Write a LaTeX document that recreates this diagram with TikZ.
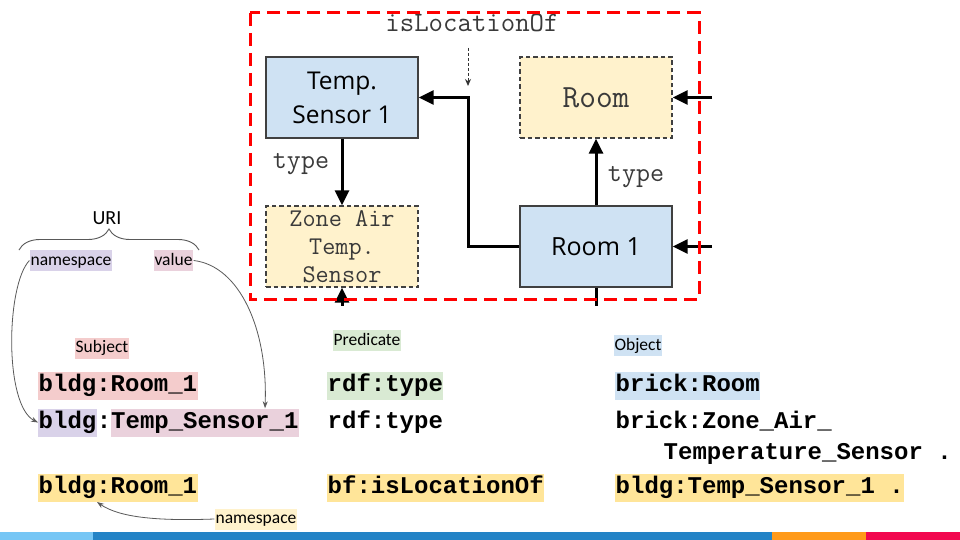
\documentclass[tikz,border=0pt]{standalone}
\usepackage{fontspec}
\setmainfont{Carlito}
\setmonofont{Liberation Mono}
\newfontfamily\osans{Open Sans}
\newfontfamily\lmtt{Latin Modern Mono}
\usetikzlibrary{arrows.meta,decorations.pathreplacing}
\definecolor{boxblue}{HTML}{CFE2F3}
\definecolor{boxyellow}{HTML}{FFF2CC}
\definecolor{subjpink}{HTML}{F4CCCC}
\definecolor{predgreen}{HTML}{D9EAD3}
\definecolor{lav}{HTML}{D9D2E9}
\definecolor{valpink}{HTML}{EAD1DC}
\definecolor{hlyellow}{HTML}{FFE599}
\definecolor{monogray}{HTML}{3A3A3A}
\definecolor{linegray}{HTML}{595959}
\definecolor{strip1}{HTML}{76C6F5}
\definecolor{strip2}{HTML}{2383C6}
\definecolor{strip3}{HTML}{FF9A1A}
\definecolor{strip4}{HTML}{F2084F}
\tikzset{
  instbox/.style={draw=black!75, line width=1.3pt, fill=boxblue, minimum width=152pt, minimum height=81pt, inner sep=0pt, align=center, font=\osans\fontsize{24.5}{34}\selectfont},
  classbox/.style={draw=black!75, line width=1.3pt, dash pattern=on 4.5pt off 3pt, fill=boxyellow, minimum width=152pt, minimum height=81pt, inner sep=0pt, align=center, text=monogray},
  arr/.style={line width=3pt, -{Triangle[length=15pt,width=14pt]}},
  lbl/.style={font=\lmtt\fontsize{27.2}{30}\selectfont, text=monogray},
  tag/.style={font=\fontsize{17.5}{20}\selectfont, inner xsep=1pt, inner ysep=2pt, text height=13pt, text depth=4pt},
  code/.style={font=\ttfamily\bfseries\fontsize{24}{28}\selectfont, anchor=west, inner xsep=0.5pt, inner ysep=2.5pt, text height=17pt, text depth=6pt},
  thin/.style={draw=linegray, line width=0.8pt, -{Stealth[length=7pt,width=5pt]}},
}
\begin{document}
\begin{tikzpicture}[x=1pt,y=-1pt]
\useasboundingbox (0,0) rectangle (960,540);
\fill[white] (0,0) rectangle (960,540);

% ---------- diagram ----------
\begin{scope}
\clip (240,0) rectangle (712,305);
\node[instbox] (temp) at (342,97.5) {Temp.\\Sensor 1};
\node[classbox, font=\lmtt\fontsize{32.4}{34}\selectfont] (room) at (596,97.5) {Room};
\node[classbox, font=\lmtt\fontsize{25.5}{28}\selectfont] (zone) at (342,246.5) {Zone Air\\Temp.\\Sensor};
\node[instbox, font=\osans\fontsize{25}{34}\selectfont] (room1) at (596,246.5) {Room 1};
\coordinate (rin1) at (712,97.5);
\coordinate (rin2) at (712,246.5);
\coordinate (zin) at (342,330);
\coordinate (rout) at (596,330);
\coordinate (dtop) at (468,48);
\coordinate (dbot) at (468,86);
\draw[arr] (temp.south) -- (zone.north);
\draw[arr] (room1.north) -- (room.south);
\draw[arr] (room1.west) -- ++(-51,0) |- (temp.east);
\draw[arr] (rin1) -- (room.east);
\draw[arr] (rin2) -- (room1.east);
\draw[arr] (zin) -- (zone.south);
\draw[line width=3pt] (room1.south) -- (rout);
\draw[black!80, line width=1pt, dash pattern=on 3pt off 2pt, -{Stealth[length=7pt,width=6pt,open]}] (dtop) -- (dbot);
\node[lbl, anchor=base] (t1) at (301,168) {type};
\node[lbl, anchor=base] (t2) at (636,182) {type};
\node[lbl, anchor=base, font=\lmtt\fontsize{28}{30}\selectfont] (iloc) at (472,32) {isLocationOf};
\draw[red, line width=3pt, dash pattern=on 13pt off 7pt] (250,13) rectangle (699,299);
\end{scope}

% ---------- URI annotation ----------
\node[font=\fontsize{20}{24}\selectfont] (uri) at (107,218) {URI};
\coordinate (bl) at (19,250);
\coordinate (br) at (199,250);
\draw[linegray, line width=0.9pt, decorate, decoration={brace, amplitude=21pt, aspect=0.5}] (bl) -- (br);
\node[tag, fill=lav] (ns) at (71,260.5) {namespace};
\node[tag, fill=valpink] (val) at (173.5,260.5) {value};

% ---------- headers ----------
\node[tag, fill=subjpink] (subj) at (102,348) {Subject};
\node[tag, fill=predgreen] (pred) at (367,340.5) {Predicate};
\node[tag, fill=boxblue] (obj) at (638,345.5) {Object};

% ---------- triples ----------
\node[code, fill=subjpink] (s1) at (38,386) {bldg:Room\_1};
\node[code, fill=predgreen] (p1) at (327,386) {rdf:type};
\node[code, fill=boxblue] (o1) at (615,386) {brick:Room};

\node[code, fill=lav] (s2a) at (38,422.5) {bldg};
\node[code] (s2b) at (96.1,422.5) {:};
\node[code, fill=valpink] (s2c) at (110.5,422.5) {Temp\_Sensor\_1};
\node[code] (p2) at (327,422.5) {rdf:type};
\node[code] (o2a) at (615,422.5) {brick:Zone\_Air\_};
\node[code] (o2b) at (663,454) {Temperature\_Sensor .};

\node[code, fill=hlyellow] (s3) at (38,488) {bldg:Room\_1};
\node[code, fill=hlyellow] (p3) at (327,488) {bf:isLocationOf};
\node[code, fill=hlyellow] (o3) at (615,488) {bldg:Temp\_Sensor\_1 .};

\node[tag, fill=boxyellow] (ns2) at (256,519) {namespace};

% ---------- curved pointers ----------
\draw[thin] (ns.west) .. controls (6,285) and (4,405) .. (s2a.west);
\draw[thin] (val.east) .. controls (240,266) and (268,330) .. (s2c.north -| 265,0);
\draw[thin] (ns2.west) .. controls (160,521) and (120,518) .. (97,502);

% ---------- bottom strip ----------
\fill[strip1] (0,532) rectangle (93,540);
\fill[strip2] (93,532) rectangle (772,540);
\fill[strip3] (772,532) rectangle (866,540);
\fill[strip4] (866,532) rectangle (960,540);
\end{tikzpicture}
\end{document}
